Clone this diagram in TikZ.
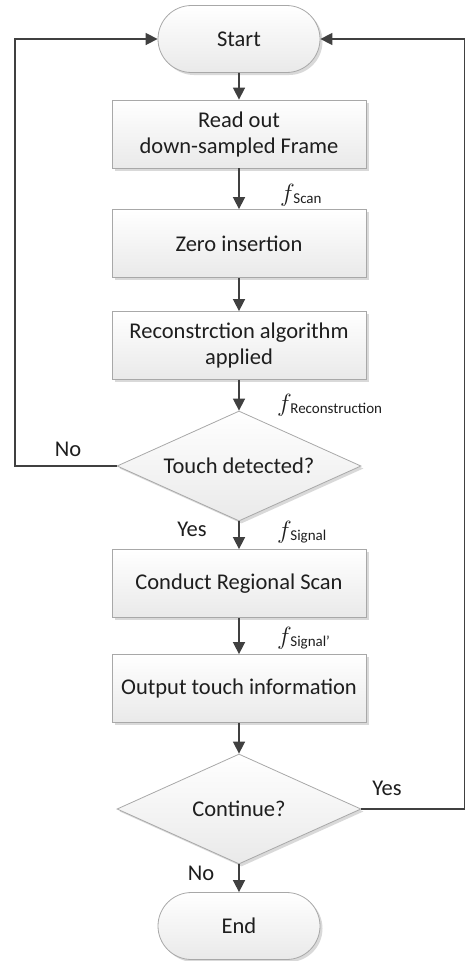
\documentclass[tikz,border=0pt]{standalone}
\usepackage{fontspec}
\setmainfont{Carlito}
\usetikzlibrary{shapes.geometric,shapes.misc,arrows.meta,shadows}
\definecolor{linec}{HTML}{404040}
\definecolor{borderc}{HTML}{A8A8A8}
\definecolor{textc}{HTML}{1E1E1E}
\newcommand{\flab}[1]{{\fontsize{28}{28}\selectfont$f$}\kern-1.5pt\raisebox{-2pt}{\fontsize{15}{15}\selectfont #1}}
\begin{document}
\begin{tikzpicture}[x=1pt,y=-1pt,
  font=\fontsize{22.5}{26}\selectfont, text=textc,
  shade/.style={draw=borderc, line width=0.8pt, top color=white, bottom color=gray!17,
    drop shadow={shadow xshift=2.5pt, shadow yshift=-2.5pt, fill=gray!50, opacity=0.6}},
  procbox/.style={shade, rectangle, minimum width=254pt, minimum height=68pt, align=center, inner sep=0pt},
  termbox/.style={shade, rounded rectangle, minimum width=162pt, minimum height=67pt, inner sep=0pt},
  decbox/.style={shade, diamond, minimum width=244pt, minimum height=110pt, inner sep=0pt, aspect=2.2},
  flow/.style={draw=linec, line width=1.6pt, -{Triangle[width=12pt,length=12pt]}},
  lab/.style={inner sep=0pt, text=textc}]
\useasboundingbox (0,0) rectangle (466,961);
\node[termbox] (start) at (239,39) {Start};
\node[procbox] (b1) at (239,134) {Read out\\down-sampled Frame};
\node[procbox] (b2) at (239,243.5) {Zero insertion};
\node[procbox] (b3) at (239,345.5) {Reconstrction algorithm\\applied};
\node[decbox] (d1) at (239,466) {Touch detected?};
\node[procbox] (b4) at (239,583.5) {Conduct Regional Scan};
\node[procbox] (b5) at (239,688.5) {Output touch information};
\node[decbox] (d2) at (239,809) {Continue?};
\node[termbox] (end) at (239,926) {End};

\draw[flow] (start) -- (b1);
\draw[flow] (b1) -- (b2);
\draw[flow] (b2) -- (b3);
\draw[flow] (b3) -- (d1);
\draw[flow] (d1) -- (b4);
\draw[flow] (b4) -- (b5);
\draw[flow] (b5) -- (d2);
\draw[flow] (d2) -- (end);

\coordinate (lb) at (15,466);
\coordinate (lt) at (15,39);
\coordinate (rb) at (464.5,809);
\coordinate (rt) at (464.5,39);
\draw[flow] (d1.west) -- (lb) -- (lt) -- (start.west);
\draw[flow] (d2.east) -- (rb) -- (rt) -- (start.east);

\node[lab, anchor=west] (fs) at (280,195) {\flab{Scan}};
\node[lab, anchor=west] (fr) at (277,405) {\flab{Reconstruction}};
\node[lab, anchor=west] (fg) at (277,532) {\flab{Signal}};
\node[lab, anchor=west] (fp) at (277,638) {\flab{Signal'}};

\node[lab] (no1) at (68,449) {No};
\node[lab] (yes1) at (192,529) {Yes};
\node[lab] (yes2) at (387,788) {Yes};
\node[lab] (no2) at (201,873) {No};
\end{tikzpicture}
\end{document}
